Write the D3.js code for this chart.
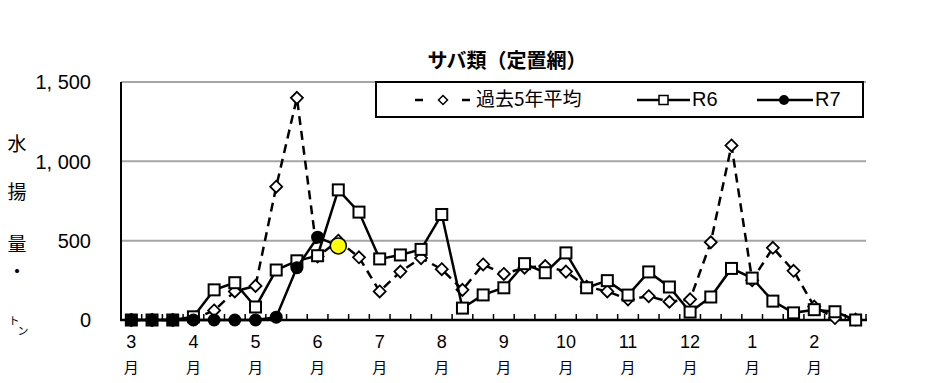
<!DOCTYPE html>
<html><head><meta charset="utf-8">
<script src="https://cdn.jsdelivr.net/npm/d3@7"></script>
<style>body{margin:0;background:#fff;}svg{display:block;}</style>
</head><body>
<script>
// ---- data (旬別: 上旬/中旬/下旬, 3月〜2月) ----
const monthLabels = ["3","4","5","6","7","8","9","10","11","12","1","2"];
const avg5 = [0,0,0,5,60,180,215,840,1400,400,500,395,180,305,390,320,190,350,290,330,340,305,210,180,130,150,115,130,490,1100,250,455,310,85,12,3];
const r6   = [0,0,0,20,190,235,82,315,373,405,820,680,385,410,445,665,75,158,203,355,298,423,203,248,157,303,208,50,145,325,264,119,45,65,52,0];
const r7   = [0,0,0,0,0,0,0,18,330,522,467];
const yTicks = [0,500,1000,1500];
const yTickLabels = ["0","500","1, 000","1, 500"];
const title = "サバ類（定置網）";
const legendNames = ["過去5年平均","R6","R7"];
const yTitle = ["水","揚","量","・"];

const W = 931, H = 383;
const svg = d3.select("body").append("svg").attr("width", W).attr("height", H);
const n = avg5.length;
const x = d3.scaleBand().domain(d3.range(n)).range([121, 866]).padding(0);
const cx = i => x(i) + x.bandwidth()/2;
const y = d3.scaleLinear().domain([0,1500]).range([320, 82]);
const numFont = "'Liberation Sans', Arial, sans-serif";
const jpFont = "'Noto Sans CJK JP', sans-serif";

// gridlines
svg.append("g").selectAll("line").data(yTicks.filter(d=>d>0)).join("line")
  .attr("x1",121).attr("x2",866).attr("y1",d=>y(d)).attr("y2",d=>y(d))
  .attr("stroke","#a6a6a6").attr("stroke-width",2);

// y tick labels
svg.append("g").selectAll("text").data(yTicks).join("text")
  .attr("x",91).attr("y",d=>y(d)+2).attr("text-anchor","end").attr("dominant-baseline","middle")
  .attr("font-family",numFont).attr("font-size",20).text((d,i)=>yTickLabels[i]);

// y title
svg.append("g").selectAll("text").data(yTitle).join("text")
  .attr("x",17).attr("y",(d,i)=>[146,194,246,274][i]).attr("text-anchor","middle").attr("dominant-baseline","middle")
  .attr("font-family",jpFont).attr("font-size",19).text(d=>d);
svg.append("text").attr("x",14).attr("y",322).attr("text-anchor","middle").attr("dominant-baseline","middle")
  .attr("font-family",jpFont).attr("font-size",11).text("ト");
svg.append("text").attr("x",23).attr("y",332).attr("text-anchor","middle").attr("dominant-baseline","middle")
  .attr("font-family",jpFont).attr("font-size",11).text("ン");

// axes
svg.append("line").attr("x1",121).attr("x2",121).attr("y1",82).attr("y2",321).attr("stroke","#000").attr("stroke-width",2);
svg.append("line").attr("x1",120).attr("x2",867).attr("y1",320).attr("y2",320).attr("stroke","#000").attr("stroke-width",2.5);
svg.append("g").selectAll("line").data(d3.range(1,n+1)).join("line")
  .attr("x1",i=>x(i-1)+x.bandwidth()).attr("x2",i=>x(i-1)+x.bandwidth())
  .attr("y1",320).attr("y2",314).attr("stroke","#000").attr("stroke-width",1.5);

// x labels
const xl = svg.append("g").selectAll("g").data(monthLabels).join("g");
xl.append("text").attr("x",(d,i)=>cx(i*3)).attr("y",343).attr("text-anchor","middle").attr("dominant-baseline","middle")
  .attr("font-family",numFont).attr("font-size",18).text(d=>d);
xl.append("text").attr("x",(d,i)=>cx(i*3)).attr("y",369).attr("text-anchor","middle").attr("dominant-baseline","middle")
  .attr("font-family",jpFont).attr("font-size",15).text("月");

// title
svg.append("text").attr("x",507).attr("y",63).attr("text-anchor","middle").attr("dominant-baseline","middle")
  .attr("font-family",jpFont).attr("font-weight","bold").attr("font-size",20).text(title);

const line = d3.line().x((d,i)=>cx(i)).y(d=>y(d));
const diamond = (s) => `M0,${-s}L${s},0L0,${s}L${-s},0Z`;

// 5-year average
svg.append("path").attr("d",line(avg5)).attr("fill","none").attr("stroke","#000")
  .attr("stroke-width",2.5).attr("stroke-dasharray","9,6");
svg.append("g").selectAll("path").data(avg5).join("path")
  .attr("d",diamond(6)).attr("transform",(d,i)=>`translate(${cx(i)},${y(d)})`)
  .attr("fill","#fff").attr("stroke","#000").attr("stroke-width",1.8);

// R6
svg.append("path").attr("d",line(r6)).attr("fill","none").attr("stroke","#000").attr("stroke-width",2.5);
svg.append("g").selectAll("rect").data(r6).join("rect")
  .attr("x",(d,i)=>cx(i)-5.5).attr("y",d=>y(d)-5.5).attr("width",11).attr("height",11)
  .attr("fill","#fff").attr("stroke","#000").attr("stroke-width",2);

// R7
svg.append("path").attr("d",line(r7)).attr("fill","none").attr("stroke","#000").attr("stroke-width",2.5);
const last = r7.length-1;
svg.append("g").selectAll("circle").data(r7).join("circle")
  .attr("cx",(d,i)=>cx(i)).attr("cy",d=>y(d)).attr("r",(d,i)=>i===last?8:6.5)
  .attr("fill",(d,i)=>i===last?"#ffff00":"#000").attr("stroke","#000").attr("stroke-width",(d,i)=>i===last?1.5:0);

// legend
const lg = svg.append("g");
lg.append("rect").attr("x",376).attr("y",82).attr("width",487).attr("height",35)
  .attr("fill","#fff").attr("stroke","#000").attr("stroke-width",2);
const ly = 100;
lg.append("line").attr("x1",415).attr("x2",423).attr("y1",ly).attr("y2",ly).attr("stroke","#000").attr("stroke-width",2.5);
lg.append("line").attr("x1",462).attr("x2",470).attr("y1",ly).attr("y2",ly).attr("stroke","#000").attr("stroke-width",2.5);
lg.append("path").attr("d",diamond(4.5)).attr("transform",`translate(443,${ly})`).attr("fill","#fff").attr("stroke","#000").attr("stroke-width",1.5);
lg.append("line").attr("x1",637).attr("x2",690).attr("y1",ly).attr("y2",ly).attr("stroke","#000").attr("stroke-width",2.5);
lg.append("rect").attr("x",659).attr("y",ly-4.5).attr("width",9).attr("height",9).attr("fill","#fff").attr("stroke","#000").attr("stroke-width",1.5);
lg.append("line").attr("x1",757).attr("x2",813).attr("y1",ly).attr("y2",ly).attr("stroke","#000").attr("stroke-width",2.5);
lg.append("circle").attr("cx",784).attr("cy",ly).attr("r",5).attr("fill","#000");
lg.append("text").attr("x",476).attr("y",ly+1).attr("dominant-baseline","middle").attr("font-family",jpFont).attr("font-size",19).text(legendNames[0]);
lg.append("text").attr("x",692).attr("y",ly+1).attr("dominant-baseline","middle").attr("font-family","'Liberation Sans Narrow', "+numFont).attr("font-size",20).text(legendNames[1]);
lg.append("text").attr("x",815).attr("y",ly+1).attr("dominant-baseline","middle").attr("font-family","'Liberation Sans Narrow', "+numFont).attr("font-size",20).text(legendNames[2]);
</script>
</body></html>
